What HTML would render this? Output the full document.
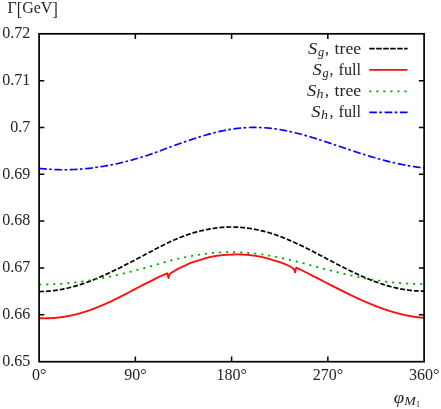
<!DOCTYPE html>
<html><head><meta charset="utf-8"><title>plot</title>
<style>
html,body{margin:0;padding:0;background:#fff;}
body{width:441px;height:409px;overflow:hidden;font-family:"Liberation Serif",serif;}
#wrap{width:441px;height:409px;will-change:transform;}
svg{display:block;font-family:"Liberation Serif",serif;font-size:16px;fill:#242424;}
</style></head><body>
<div id="wrap"><svg width="441" height="409" viewBox="0 0 441 409">
<g fill="none" stroke-linejoin="round">
<path d="M39.10,291.53 L40.10,291.53 L41.10,291.51 L42.10,291.49 L43.10,291.46 L44.10,291.42 L45.10,291.37 L46.10,291.32 L47.10,291.25 L48.10,291.18 L49.10,291.10 L50.10,291.01 L51.10,290.91 L52.10,290.81 L53.10,290.69 L54.10,290.57 L55.10,290.44 L56.10,290.30 L57.10,290.16 L58.10,290.00 L59.10,289.84 L60.10,289.67 L61.10,289.49 L62.10,289.30 L63.10,289.11 L64.10,288.91 L65.10,288.70 L66.10,288.48 L67.10,288.25 L68.10,288.02 L69.10,287.78 L70.10,287.53 L71.10,287.28 L72.10,287.02 L73.10,286.75 L74.10,286.47 L75.10,286.19 L76.10,285.90 L77.10,285.60 L78.10,285.29 L79.10,284.98 L80.10,284.66 L81.10,284.34 L82.10,284.01 L83.10,283.67 L84.10,283.32 L85.10,282.97 L86.10,282.62 L87.10,282.25 L88.10,281.88 L89.10,281.51 L90.10,281.13 L91.10,280.74 L92.10,280.35 L93.10,279.95 L94.10,279.55 L95.10,279.14 L96.10,278.72 L97.10,278.30 L98.10,277.88 L99.10,277.45 L100.10,277.02 L101.10,276.59 L102.10,276.15 L103.10,275.71 L104.10,275.26 L105.10,274.81 L106.10,274.36 L107.10,273.90 L108.10,273.44 L109.10,272.97 L110.10,272.50 L111.10,272.03 L112.10,271.56 L113.10,271.08 L114.10,270.59 L115.10,270.11 L116.10,269.62 L117.10,269.13 L118.10,268.64 L119.10,268.14 L120.10,267.64 L121.10,267.13 L122.10,266.62 L123.10,266.11 L124.10,265.60 L125.10,265.08 L126.10,264.56 L127.10,264.04 L128.10,263.52 L129.10,263.00 L130.10,262.48 L131.10,261.96 L132.10,261.43 L133.10,260.91 L134.10,260.38 L135.10,259.86 L136.10,259.33 L137.10,258.81 L138.10,258.28 L139.10,257.76 L140.10,257.23 L141.10,256.71 L142.10,256.18 L143.10,255.66 L144.10,255.14 L145.10,254.62 L146.10,254.10 L147.10,253.58 L148.10,253.06 L149.10,252.55 L150.10,252.03 L151.10,251.49 L152.10,250.96 L153.10,250.42 L154.10,249.89 L155.10,249.36 L156.10,248.83 L157.10,248.31 L158.10,247.79 L159.10,247.27 L160.10,246.75 L161.10,246.24 L162.10,245.73 L163.10,245.22 L164.10,244.72 L165.10,244.23 L166.10,243.73 L167.10,243.24 L168.10,242.76 L169.10,242.27 L170.10,241.80 L171.10,241.32 L172.10,240.86 L173.10,240.42 L174.10,239.99 L175.10,239.57 L176.10,239.15 L177.10,238.73 L178.10,238.32 L179.10,237.92 L180.10,237.52 L181.10,237.12 L182.10,236.74 L183.10,236.35 L184.10,235.98 L185.10,235.61 L186.10,235.25 L187.10,234.89 L188.10,234.54 L189.10,234.19 L190.10,233.86 L191.10,233.54 L192.10,233.24 L193.10,232.93 L194.10,232.64 L195.10,232.35 L196.10,232.07 L197.10,231.80 L198.10,231.54 L199.10,231.28 L200.10,231.03 L201.10,230.79 L202.10,230.55 L203.10,230.32 L204.10,230.10 L205.10,229.89 L206.10,229.69 L207.10,229.49 L208.10,229.30 L209.10,229.12 L210.10,228.95 L211.10,228.79 L212.10,228.63 L213.10,228.47 L214.10,228.32 L215.10,228.17 L216.10,228.03 L217.10,227.90 L218.10,227.78 L219.10,227.67 L220.10,227.57 L221.10,227.47 L222.10,227.38 L223.10,227.31 L224.10,227.24 L225.10,227.18 L226.10,227.13 L227.10,227.08 L228.10,227.05 L229.10,227.02 L230.10,227.01 L231.10,227.00 L232.10,227.00 L233.10,227.01 L234.10,227.03 L235.10,227.05 L236.10,227.09 L237.10,227.13 L238.10,227.19 L239.10,227.25 L240.10,227.32 L241.10,227.40 L242.10,227.49 L243.10,227.58 L244.10,227.69 L245.10,227.80 L246.10,227.93 L247.10,228.06 L248.10,228.20 L249.10,228.34 L250.10,228.50 L251.10,228.66 L252.10,228.84 L253.10,229.00 L254.10,229.18 L255.10,229.36 L256.10,229.55 L257.10,229.75 L258.10,229.95 L259.10,230.17 L260.10,230.39 L261.10,230.62 L262.10,230.86 L263.10,231.10 L264.10,231.35 L265.10,231.61 L266.10,231.88 L267.10,232.16 L268.10,232.44 L269.10,232.73 L270.10,233.03 L271.10,233.33 L272.10,233.64 L273.10,233.96 L274.10,234.28 L275.10,234.61 L276.10,234.97 L277.10,235.33 L278.10,235.69 L279.10,236.06 L280.10,236.44 L281.10,236.82 L282.10,237.21 L283.10,237.61 L284.10,238.01 L285.10,238.42 L286.10,238.83 L287.10,239.25 L288.10,239.67 L289.10,240.10 L290.10,240.53 L291.10,240.97 L292.10,241.41 L293.10,241.86 L294.10,242.31 L295.10,242.77 L296.10,243.23 L297.10,243.69 L298.10,244.16 L299.10,244.64 L300.10,245.11 L301.10,245.59 L302.10,246.08 L303.10,246.56 L304.10,247.05 L305.10,247.55 L306.10,248.04 L307.10,248.54 L308.10,249.05 L309.10,249.55 L310.10,250.06 L311.10,250.57 L312.10,251.08 L313.10,251.59 L314.10,252.11 L315.10,252.62 L316.10,253.14 L317.10,253.66 L318.10,254.18 L319.10,254.71 L320.10,255.23 L321.10,255.76 L322.10,256.28 L323.10,256.81 L324.10,257.33 L325.10,257.86 L326.10,258.39 L327.10,258.91 L328.10,259.44 L329.10,259.97 L330.10,260.49 L331.10,261.02 L332.10,261.55 L333.10,262.07 L334.10,262.59 L335.10,263.12 L336.10,263.64 L337.10,264.16 L338.10,264.68 L339.10,265.19 L340.10,265.71 L341.10,266.22 L342.10,266.73 L343.10,267.24 L344.10,267.75 L345.10,268.25 L346.10,268.75 L347.10,269.25 L348.10,269.75 L349.10,270.24 L350.10,270.73 L351.10,271.22 L352.10,271.70 L353.10,272.18 L354.10,272.66 L355.10,273.13 L356.10,273.60 L357.10,274.06 L358.10,274.52 L359.10,274.98 L360.10,275.43 L361.10,275.88 L362.10,276.32 L363.10,276.76 L364.10,277.19 L365.10,277.62 L366.10,278.05 L367.10,278.47 L368.10,278.88 L369.10,279.29 L370.10,279.69 L371.10,280.09 L372.10,280.48 L373.10,280.86 L374.10,281.24 L375.10,281.62 L376.10,281.99 L377.10,282.35 L378.10,282.70 L379.10,283.05 L380.10,283.40 L381.10,283.73 L382.10,284.06 L383.10,284.39 L384.10,284.70 L385.10,285.01 L386.10,285.31 L387.10,285.61 L388.10,285.90 L389.10,286.18 L390.10,286.45 L391.10,286.72 L392.10,286.98 L393.10,287.23 L394.10,287.48 L395.10,287.72 L396.10,287.95 L397.10,288.17 L398.10,288.38 L399.10,288.59 L400.10,288.79 L401.10,288.98 L402.10,289.16 L403.10,289.34 L404.10,289.51 L405.10,289.67 L406.10,289.82 L407.10,289.96 L408.10,290.10 L409.10,290.22 L410.10,290.34 L411.10,290.45 L412.10,290.56 L413.10,290.65 L414.10,290.74 L415.10,290.81 L416.10,290.88 L417.10,290.94 L418.10,291.00 L419.10,291.04 L420.10,291.08 L421.10,291.10 L422.10,291.12 L423.10,291.13 L424.10,291.13" stroke="#000" stroke-width="1.7" stroke-dasharray="4.9 2"/>
<path d="M39.10,318.20 L39.60,318.22 L40.10,318.23 L40.60,318.25 L41.10,318.26 L41.60,318.27 L42.10,318.28 L42.60,318.29 L43.10,318.29 L43.60,318.30 L44.10,318.30 L44.60,318.30 L45.10,318.30 L45.60,318.30 L46.10,318.29 L46.60,318.28 L47.10,318.27 L47.60,318.26 L48.10,318.25 L48.60,318.23 L49.10,318.22 L49.60,318.20 L50.10,318.18 L50.60,318.16 L51.10,318.13 L51.60,318.10 L52.10,318.08 L52.60,318.05 L53.10,318.01 L53.60,317.98 L54.10,317.94 L54.60,317.90 L55.10,317.86 L55.60,317.82 L56.10,317.78 L56.60,317.73 L57.10,317.68 L57.60,317.63 L58.10,317.58 L58.60,317.52 L59.10,317.47 L59.60,317.41 L60.10,317.35 L60.60,317.29 L61.10,317.22 L61.60,317.15 L62.10,317.09 L62.60,317.02 L63.10,316.94 L63.60,316.87 L64.10,316.79 L64.60,316.71 L65.10,316.63 L65.60,316.55 L66.10,316.46 L66.60,316.38 L67.10,316.29 L67.60,316.20 L68.10,316.10 L68.60,316.01 L69.10,315.91 L69.60,315.81 L70.10,315.71 L70.60,315.61 L71.10,315.51 L71.60,315.40 L72.10,315.29 L72.60,315.18 L73.10,315.07 L73.60,314.95 L74.10,314.83 L74.60,314.72 L75.10,314.59 L75.60,314.47 L76.10,314.35 L76.60,314.22 L77.10,314.09 L77.60,313.96 L78.10,313.83 L78.60,313.69 L79.10,313.56 L79.60,313.42 L80.10,313.28 L80.60,313.14 L81.10,312.99 L81.60,312.85 L82.10,312.70 L82.60,312.55 L83.10,312.40 L83.60,312.24 L84.10,312.09 L84.60,311.93 L85.10,311.77 L85.60,311.61 L86.10,311.45 L86.60,311.28 L87.10,311.12 L87.60,310.95 L88.10,310.78 L88.60,310.61 L89.10,310.43 L89.60,310.26 L90.10,310.08 L90.60,309.90 L91.10,309.72 L91.60,309.54 L92.10,309.36 L92.60,309.17 L93.10,308.98 L93.60,308.80 L94.10,308.61 L94.60,308.41 L95.10,308.22 L95.60,308.02 L96.10,307.83 L96.60,307.63 L97.10,307.43 L97.60,307.23 L98.10,307.02 L98.60,306.82 L99.10,306.61 L99.60,306.41 L100.10,306.20 L100.60,305.99 L101.10,305.78 L101.60,305.57 L102.10,305.36 L102.60,305.15 L103.10,304.93 L103.60,304.72 L104.10,304.50 L104.60,304.28 L105.10,304.06 L105.60,303.84 L106.10,303.62 L106.60,303.39 L107.10,303.17 L107.60,302.94 L108.10,302.71 L108.60,302.48 L109.10,302.26 L109.60,302.02 L110.10,301.79 L110.60,301.56 L111.10,301.32 L111.60,301.09 L112.10,300.85 L112.60,300.62 L113.10,300.38 L113.60,300.14 L114.10,299.90 L114.60,299.65 L115.10,299.41 L115.60,299.17 L116.10,298.92 L116.60,298.68 L117.10,298.43 L117.60,298.19 L118.10,297.94 L118.60,297.69 L119.10,297.44 L119.60,297.19 L120.10,296.94 L120.60,296.69 L121.10,296.43 L121.60,296.17 L122.10,295.92 L122.60,295.66 L123.10,295.40 L123.60,295.14 L124.10,294.88 L124.60,294.62 L125.10,294.36 L125.60,294.10 L126.10,293.84 L126.60,293.58 L127.10,293.32 L127.60,293.06 L128.10,292.79 L128.60,292.53 L129.10,292.27 L129.60,292.00 L130.10,291.74 L130.60,291.48 L131.10,291.21 L131.60,290.95 L132.10,290.69 L132.60,290.42 L133.10,290.16 L133.60,289.89 L134.10,289.63 L134.60,289.36 L135.10,289.10 L135.60,288.84 L136.10,288.57 L136.60,288.31 L137.10,288.05 L137.60,287.78 L138.10,287.52 L138.60,287.26 L139.10,287.00 L139.60,286.73 L140.10,286.47 L140.60,286.21 L141.10,285.95 L141.60,285.69 L142.10,285.43 L142.60,285.17 L143.10,284.91 L143.60,284.65 L144.10,284.40 L144.60,284.14 L145.10,283.88 L145.60,283.63 L146.10,283.38 L146.60,283.12 L147.10,282.87 L147.60,282.62 L148.10,282.37 L148.60,282.12 L149.10,281.87 L149.60,281.62 L150.10,281.37 L150.60,281.11 L151.10,280.85 L151.60,280.60 L152.10,280.34 L152.60,280.08 L153.10,279.83 L153.60,279.58 L154.10,279.33 L154.60,279.08 L155.10,278.83 L155.60,278.59 L156.10,278.34 L156.60,278.10 L157.10,277.86 L157.60,277.61 L158.10,277.38 L158.60,277.14 L159.10,276.90 L159.60,276.67 L160.10,276.44 L160.60,276.21 L161.10,275.98 L161.60,275.76 L162.10,275.53 L162.60,275.31 L163.10,275.09 L163.60,274.87 L164.10,274.66 L164.60,274.45 L165.10,274.24 L165.60,274.03 L166.10,273.82 L166.60,273.62 L167.10,273.41 L167.30,273.33 L168.50,278.00 L168.75,276.88 L169.00,276.02 L169.25,275.36 L169.50,274.80 L169.75,274.32 L170.00,273.95 L170.25,273.69 L170.50,273.48 L170.75,273.30 L171.00,273.13 L171.25,272.96 L171.50,272.80 L171.75,272.65 L172.00,272.50 L172.25,272.35 L172.50,272.19 L172.75,272.03 L173.00,271.87 L173.25,271.71 L173.50,271.54 L173.75,271.38 L174.00,271.22 L174.25,271.06 L174.50,270.91 L174.75,270.75 L175.00,270.60 L175.25,270.45 L175.50,270.30 L175.75,270.16 L176.00,270.01 L176.25,269.87 L176.50,269.73 L176.75,269.58 L177.00,269.44 L177.25,269.31 L177.50,269.17 L177.75,269.03 L178.00,268.90 L178.25,268.77 L178.50,268.64 L178.75,268.50 L179.00,268.37 L179.25,268.25 L179.50,268.12 L179.75,267.99 L180.00,267.86 L180.25,267.74 L180.50,267.62 L180.75,267.49 L181.00,267.37 L181.25,267.25 L181.50,267.13 L181.75,267.02 L182.00,266.90 L182.25,266.79 L182.50,266.67 L182.75,266.57 L183.00,266.46 L183.25,266.35 L183.50,266.25 L183.75,266.14 L184.00,266.04 L184.25,265.93 L184.50,265.82 L184.75,265.71 L185.00,265.60 L185.25,265.48 L185.50,265.37 L185.75,265.25 L186.00,265.12 L186.25,265.00 L186.50,264.87 L186.75,264.75 L187.00,264.62 L187.25,264.49 L187.50,264.37 L187.75,264.24 L188.00,264.11 L188.25,263.99 L188.50,263.87 L188.75,263.75 L189.00,263.63 L189.25,263.52 L189.50,263.41 L189.75,263.30 L190.00,263.20 L190.25,263.10 L190.50,263.01 L190.75,262.91 L191.00,262.82 L191.25,262.73 L191.50,262.64 L191.75,262.55 L192.00,262.47 L192.25,262.38 L192.50,262.30 L192.75,262.22 L193.00,262.14 L193.25,262.06 L193.50,261.98 L193.75,261.90 L194.00,261.82 L194.25,261.74 L194.50,261.66 L194.75,261.58 L195.00,261.50 L195.25,261.42 L195.50,261.34 L195.75,261.27 L196.00,261.19 L196.25,261.11 L196.50,261.04 L196.75,260.96 L197.00,260.89 L197.25,260.82 L197.50,260.74 L197.75,260.67 L198.00,260.60 L198.25,260.52 L198.50,260.45 L198.75,260.38 L199.00,260.30 L199.25,260.23 L199.50,260.15 L199.75,260.08 L200.00,260.00 L200.25,259.92 L200.50,259.84 L200.75,259.76 L201.00,259.68 L201.25,259.60 L201.50,259.52 L201.75,259.43 L202.00,259.35 L202.25,259.27 L202.50,259.19 L202.75,259.10 L203.00,259.02 L203.25,258.94 L203.50,258.86 L203.75,258.78 L204.00,258.70 L204.25,258.62 L204.50,258.55 L204.75,258.47 L205.00,258.40 L205.25,258.33 L205.50,258.26 L205.75,258.19 L206.00,258.11 L206.25,258.04 L206.50,257.97 L206.75,257.90 L207.00,257.83 L207.25,257.76 L207.50,257.69 L207.75,257.63 L208.00,257.56 L208.25,257.49 L208.50,257.42 L208.75,257.36 L209.00,257.30 L209.25,257.23 L209.50,257.17 L209.75,257.11 L210.00,257.05 L210.25,256.99 L210.50,256.93 L210.75,256.88 L211.00,256.82 L211.25,256.77 L211.50,256.72 L211.75,256.67 L212.00,256.62 L212.25,256.57 L212.50,256.52 L212.75,256.48 L213.00,256.43 L213.25,256.39 L213.50,256.34 L213.75,256.30 L214.00,256.25 L214.25,256.21 L214.50,256.17 L214.75,256.12 L215.00,256.08 L215.25,256.04 L215.50,256.00 L215.75,255.96 L216.00,255.93 L216.25,255.89 L216.50,255.85 L216.75,255.82 L217.00,255.78 L217.25,255.75 L217.50,255.71 L217.75,255.68 L218.00,255.65 L218.25,255.62 L218.50,255.59 L218.75,255.56 L219.00,255.53 L219.25,255.50 L219.50,255.47 L219.75,255.44 L220.00,255.41 L220.25,255.39 L220.50,255.36 L220.75,255.33 L221.00,255.30 L221.25,255.28 L221.50,255.25 L221.75,255.22 L222.00,255.20 L222.25,255.17 L222.50,255.15 L222.75,255.13 L223.00,255.10 L223.25,255.08 L223.50,255.06 L223.75,255.03 L224.00,255.01 L224.25,254.99 L224.50,254.97 L224.75,254.95 L225.00,254.93 L225.25,254.91 L225.50,254.89 L225.75,254.88 L226.00,254.86 L226.25,254.84 L226.50,254.83 L226.75,254.81 L227.00,254.80 L227.25,254.79 L227.50,254.77 L227.75,254.76 L228.00,254.75 L228.25,254.73 L228.50,254.72 L228.75,254.70 L229.00,254.69 L229.25,254.68 L229.50,254.66 L229.75,254.65 L230.00,254.64 L230.25,254.63 L230.50,254.61 L230.75,254.60 L231.00,254.59 L231.25,254.58 L231.50,254.56 L231.75,254.55 L232.00,254.54 L232.25,254.53 L232.50,254.52 L232.75,254.51 L233.00,254.50 L233.25,254.49 L233.50,254.48 L233.75,254.47 L234.00,254.46 L234.25,254.46 L234.50,254.45 L234.75,254.44 L235.00,254.43 L235.25,254.43 L235.50,254.42 L235.75,254.42 L236.00,254.41 L236.25,254.41 L236.50,254.41 L236.75,254.40 L237.00,254.40 L237.25,254.40 L237.50,254.40 L237.75,254.40 L238.00,254.40 L238.25,254.40 L238.50,254.41 L238.75,254.41 L239.00,254.41 L239.25,254.42 L239.50,254.43 L239.75,254.43 L240.00,254.44 L240.25,254.45 L240.50,254.46 L240.75,254.47 L241.00,254.48 L241.25,254.49 L241.50,254.50 L241.75,254.52 L242.00,254.53 L242.25,254.54 L242.50,254.55 L242.75,254.57 L243.00,254.58 L243.25,254.60 L243.50,254.61 L243.75,254.63 L244.00,254.64 L244.25,254.66 L244.50,254.68 L244.75,254.69 L245.00,254.71 L245.25,254.72 L245.50,254.74 L245.75,254.76 L246.00,254.77 L246.25,254.79 L246.50,254.81 L246.75,254.82 L247.00,254.84 L247.25,254.86 L247.50,254.88 L247.75,254.90 L248.00,254.93 L248.25,254.95 L248.50,254.97 L248.75,255.00 L249.00,255.02 L249.25,255.05 L249.50,255.08 L249.75,255.11 L250.00,255.14 L250.25,255.16 L250.50,255.19 L250.75,255.23 L251.00,255.26 L251.25,255.29 L251.50,255.32 L251.75,255.35 L252.00,255.39 L252.25,255.42 L252.50,255.45 L252.75,255.49 L253.00,255.52 L253.25,255.56 L253.50,255.59 L253.75,255.62 L254.00,255.66 L254.25,255.69 L254.50,255.73 L254.75,255.76 L255.00,255.80 L255.25,255.84 L255.50,255.87 L255.75,255.91 L256.00,255.95 L256.25,255.99 L256.50,256.03 L256.75,256.07 L257.00,256.11 L257.25,256.15 L257.50,256.19 L257.75,256.23 L258.00,256.28 L258.25,256.32 L258.50,256.36 L258.75,256.41 L259.00,256.46 L259.25,256.50 L259.50,256.55 L259.75,256.60 L260.00,256.64 L260.25,256.69 L260.50,256.74 L260.75,256.79 L261.00,256.84 L261.25,256.89 L261.50,256.94 L261.75,256.99 L262.00,257.05 L262.25,257.10 L262.50,257.15 L262.75,257.21 L263.00,257.26 L263.25,257.32 L263.50,257.37 L263.75,257.43 L264.00,257.49 L264.25,257.55 L264.50,257.61 L264.75,257.67 L265.00,257.73 L265.25,257.79 L265.50,257.85 L265.75,257.91 L266.00,257.98 L266.25,258.04 L266.50,258.11 L266.75,258.17 L267.00,258.24 L267.25,258.31 L267.50,258.37 L267.75,258.44 L268.00,258.51 L268.25,258.58 L268.50,258.66 L268.75,258.73 L269.00,258.81 L269.25,258.89 L269.50,258.97 L269.75,259.05 L270.00,259.14 L270.25,259.22 L270.50,259.30 L270.75,259.39 L271.00,259.47 L271.25,259.56 L271.50,259.65 L271.75,259.73 L272.00,259.82 L272.25,259.90 L272.50,259.99 L272.75,260.07 L273.00,260.15 L273.25,260.24 L273.50,260.32 L273.75,260.40 L274.00,260.48 L274.25,260.55 L274.50,260.63 L274.75,260.70 L275.00,260.78 L275.25,260.85 L275.50,260.92 L275.75,260.99 L276.00,261.06 L276.25,261.13 L276.50,261.19 L276.75,261.26 L277.00,261.33 L277.25,261.40 L277.50,261.46 L277.75,261.53 L278.00,261.60 L278.25,261.67 L278.50,261.74 L278.75,261.82 L279.00,261.89 L279.25,261.96 L279.50,262.04 L279.75,262.12 L280.00,262.20 L280.25,262.28 L280.50,262.37 L280.75,262.45 L281.00,262.54 L281.25,262.63 L281.50,262.72 L281.75,262.82 L282.00,262.91 L282.25,263.01 L282.50,263.10 L282.75,263.20 L283.00,263.30 L283.25,263.40 L283.50,263.50 L283.75,263.60 L284.00,263.70 L284.25,263.80 L284.50,263.90 L284.75,264.01 L285.00,264.11 L285.25,264.22 L285.50,264.33 L285.75,264.44 L286.00,264.54 L286.25,264.66 L286.50,264.77 L286.75,264.88 L287.00,264.99 L287.25,265.10 L287.50,265.21 L287.75,265.32 L288.00,265.43 L288.25,265.55 L288.50,265.66 L288.75,265.78 L289.00,265.89 L289.25,266.01 L289.50,266.14 L289.75,266.26 L290.00,266.39 L290.25,266.53 L290.50,266.66 L290.75,266.81 L291.00,266.95 L291.25,267.11 L291.50,267.26 L291.75,267.43 L292.00,267.60 L292.25,267.78 L292.50,267.97 L292.75,268.18 L293.00,268.40 L293.25,268.65 L293.50,268.92 L293.75,269.23 L294.00,269.58 L294.25,269.98 L294.50,270.50 L294.75,271.31 L295.00,272.40 L296.30,267.60 L296.80,267.84 L297.30,268.08 L297.80,268.32 L298.30,268.56 L298.80,268.81 L299.30,269.05 L299.80,269.30 L300.30,269.54 L300.80,269.79 L301.30,270.04 L301.80,270.28 L302.30,270.53 L302.80,270.78 L303.30,271.03 L303.80,271.28 L304.30,271.52 L304.80,271.77 L305.30,272.02 L305.80,272.28 L306.30,272.53 L306.80,272.78 L307.30,273.03 L307.80,273.28 L308.30,273.54 L308.80,273.79 L309.30,274.04 L309.80,274.29 L310.30,274.55 L310.80,274.80 L311.30,275.06 L311.80,275.31 L312.30,275.57 L312.80,275.82 L313.30,276.08 L313.80,276.33 L314.30,276.59 L314.80,276.85 L315.30,277.10 L315.80,277.36 L316.30,277.62 L316.80,277.87 L317.30,278.13 L317.80,278.39 L318.30,278.65 L318.80,278.90 L319.30,279.16 L319.80,279.42 L320.30,279.68 L320.80,279.93 L321.30,280.19 L321.80,280.45 L322.30,280.71 L322.80,280.96 L323.30,281.22 L323.80,281.48 L324.30,281.74 L324.80,282.00 L325.30,282.25 L325.80,282.51 L326.30,282.77 L326.80,283.03 L327.30,283.28 L327.80,283.54 L328.30,283.80 L328.80,284.06 L329.30,284.31 L329.80,284.57 L330.30,284.83 L330.80,285.08 L331.30,285.34 L331.80,285.60 L332.30,285.85 L332.80,286.11 L333.30,286.36 L333.80,286.62 L334.30,286.87 L334.80,287.13 L335.30,287.38 L335.80,287.64 L336.30,287.89 L336.80,288.15 L337.30,288.40 L337.80,288.65 L338.30,288.90 L338.80,289.16 L339.30,289.41 L339.80,289.66 L340.30,289.91 L340.80,290.16 L341.30,290.41 L341.80,290.66 L342.30,290.91 L342.80,291.16 L343.30,291.41 L343.80,291.66 L344.30,291.91 L344.80,292.15 L345.30,292.40 L345.80,292.65 L346.30,292.89 L346.80,293.14 L347.30,293.38 L347.80,293.63 L348.30,293.87 L348.80,294.11 L349.30,294.35 L349.80,294.60 L350.30,294.84 L350.80,295.08 L351.30,295.32 L351.80,295.56 L352.30,295.79 L352.80,296.03 L353.30,296.27 L353.80,296.51 L354.30,296.74 L354.80,296.98 L355.30,297.21 L355.80,297.44 L356.30,297.68 L356.80,297.91 L357.30,298.14 L357.80,298.37 L358.30,298.60 L358.80,298.83 L359.30,299.06 L359.80,299.29 L360.30,299.51 L360.80,299.74 L361.30,299.96 L361.80,300.19 L362.30,300.41 L362.80,300.63 L363.30,300.85 L363.80,301.07 L364.30,301.29 L364.80,301.51 L365.30,301.73 L365.80,301.95 L366.30,302.16 L366.80,302.38 L367.30,302.59 L367.80,302.80 L368.30,303.01 L368.80,303.22 L369.30,303.43 L369.80,303.64 L370.30,303.85 L370.80,304.06 L371.30,304.26 L371.80,304.47 L372.30,304.67 L372.80,304.87 L373.30,305.07 L373.80,305.27 L374.30,305.47 L374.80,305.67 L375.30,305.87 L375.80,306.06 L376.30,306.25 L376.80,306.45 L377.30,306.64 L377.80,306.83 L378.30,307.02 L378.80,307.21 L379.30,307.39 L379.80,307.58 L380.30,307.76 L380.80,307.95 L381.30,308.13 L381.80,308.31 L382.30,308.49 L382.80,308.67 L383.30,308.84 L383.80,309.02 L384.30,309.19 L384.80,309.36 L385.30,309.53 L385.80,309.70 L386.30,309.87 L386.80,310.04 L387.30,310.20 L387.80,310.37 L388.30,310.53 L388.80,310.69 L389.30,310.85 L389.80,311.01 L390.30,311.17 L390.80,311.32 L391.30,311.48 L391.80,311.63 L392.30,311.78 L392.80,311.93 L393.30,312.08 L393.80,312.22 L394.30,312.37 L394.80,312.51 L395.30,312.65 L395.80,312.79 L396.30,312.93 L396.80,313.07 L397.30,313.20 L397.80,313.33 L398.30,313.47 L398.80,313.60 L399.30,313.73 L399.80,313.85 L400.30,313.98 L400.80,314.10 L401.30,314.22 L401.80,314.34 L402.30,314.46 L402.80,314.58 L403.30,314.69 L403.80,314.81 L404.30,314.92 L404.80,315.03 L405.30,315.13 L405.80,315.24 L406.30,315.34 L406.80,315.45 L407.30,315.55 L407.80,315.65 L408.30,315.74 L408.80,315.84 L409.30,315.93 L409.80,316.02 L410.30,316.11 L410.80,316.20 L411.30,316.28 L411.80,316.37 L412.30,316.45 L412.80,316.53 L413.30,316.61 L413.80,316.68 L414.30,316.76 L414.80,316.83 L415.30,316.90 L415.80,316.97 L416.30,317.03 L416.80,317.10 L417.30,317.16 L417.80,317.22 L418.30,317.28 L418.80,317.33 L419.30,317.39 L419.80,317.44 L420.30,317.49 L420.80,317.54 L421.30,317.58 L421.80,317.63 L422.30,317.67 L422.80,317.71 L423.30,317.74 L423.80,317.78 L424.10,317.80" stroke="#ff0d0d" stroke-width="1.85" stroke-linejoin="round"/>
<path d="M39.10,284.54 L40.10,284.54 L41.10,284.54 L42.10,284.53 L43.10,284.52 L44.10,284.51 L45.10,284.49 L46.10,284.47 L47.10,284.45 L48.10,284.42 L49.10,284.39 L50.10,284.36 L51.10,284.32 L52.10,284.28 L53.10,284.24 L54.10,284.19 L55.10,284.14 L56.10,284.09 L57.10,284.04 L58.10,283.98 L59.10,283.91 L60.10,283.85 L61.10,283.78 L62.10,283.70 L63.10,283.63 L64.10,283.55 L65.10,283.46 L66.10,283.38 L67.10,283.29 L68.10,283.19 L69.10,283.10 L70.10,283.00 L71.10,282.90 L72.10,282.79 L73.10,282.68 L74.10,282.57 L75.10,282.45 L76.10,282.33 L77.10,282.21 L78.10,282.09 L79.10,281.96 L80.10,281.82 L81.10,281.69 L82.10,281.55 L83.10,281.41 L84.10,281.26 L85.10,281.12 L86.10,280.97 L87.10,280.81 L88.10,280.65 L89.10,280.49 L90.10,280.33 L91.10,280.17 L92.10,280.00 L93.10,279.82 L94.10,279.65 L95.10,279.47 L96.10,279.29 L97.10,279.11 L98.10,278.92 L99.10,278.73 L100.10,278.54 L101.10,278.35 L102.10,278.16 L103.10,277.97 L104.10,277.77 L105.10,277.57 L106.10,277.37 L107.10,277.17 L108.10,276.96 L109.10,276.75 L110.10,276.54 L111.10,276.32 L112.10,276.11 L113.10,275.89 L114.10,275.67 L115.10,275.45 L116.10,275.22 L117.10,274.99 L118.10,274.76 L119.10,274.53 L120.10,274.30 L121.10,274.06 L122.10,273.81 L123.10,273.56 L124.10,273.32 L125.10,273.07 L126.10,272.81 L127.10,272.56 L128.10,272.31 L129.10,272.05 L130.10,271.79 L131.10,271.53 L132.10,271.27 L133.10,271.01 L134.10,270.75 L135.10,270.49 L136.10,270.22 L137.10,269.96 L138.10,269.69 L139.10,269.43 L140.10,269.16 L141.10,268.89 L142.10,268.62 L143.10,268.35 L144.10,268.08 L145.10,267.81 L146.10,267.54 L147.10,267.27 L148.10,267.00 L149.10,266.73 L150.10,266.46 L151.10,266.16 L152.10,265.87 L153.10,265.57 L154.10,265.27 L155.10,264.98 L156.10,264.68 L157.10,264.39 L158.10,264.10 L159.10,263.80 L160.10,263.51 L161.10,263.22 L162.10,262.93 L163.10,262.65 L164.10,262.36 L165.10,262.07 L166.10,261.79 L167.10,261.51 L168.10,261.23 L169.10,260.95 L170.10,260.67 L171.10,260.39 L172.10,260.13 L173.10,259.89 L174.10,259.65 L175.10,259.42 L176.10,259.19 L177.10,258.97 L178.10,258.74 L179.10,258.52 L180.10,258.30 L181.10,258.08 L182.10,257.87 L183.10,257.66 L184.10,257.45 L185.10,257.24 L186.10,257.04 L187.10,256.84 L188.10,256.65 L189.10,256.46 L190.10,256.27 L191.10,256.09 L192.10,255.91 L193.10,255.73 L194.10,255.55 L195.10,255.39 L196.10,255.22 L197.10,255.06 L198.10,254.90 L199.10,254.75 L200.10,254.60 L201.10,254.45 L202.10,254.30 L203.10,254.16 L204.10,254.02 L205.10,253.88 L206.10,253.75 L207.10,253.63 L208.10,253.51 L209.10,253.39 L210.10,253.28 L211.10,253.17 L212.10,253.07 L213.10,252.97 L214.10,252.88 L215.10,252.80 L216.10,252.71 L217.10,252.64 L218.10,252.56 L219.10,252.50 L220.10,252.44 L221.10,252.38 L222.10,252.33 L223.10,252.28 L224.10,252.24 L225.10,252.20 L226.10,252.17 L227.10,252.15 L228.10,252.13 L229.10,252.11 L230.10,252.10 L231.10,252.10 L232.10,252.10 L233.10,252.10 L234.10,252.11 L235.10,252.13 L236.10,252.15 L237.10,252.18 L238.10,252.21 L239.10,252.25 L240.10,252.29 L241.10,252.34 L242.10,252.39 L243.10,252.45 L244.10,252.51 L245.10,252.58 L246.10,252.65 L247.10,252.73 L248.10,252.81 L249.10,252.90 L250.10,252.99 L251.10,253.09 L252.10,253.19 L253.10,253.30 L254.10,253.41 L255.10,253.53 L256.10,253.65 L257.10,253.77 L258.10,253.90 L259.10,254.04 L260.10,254.18 L261.10,254.31 L262.10,254.46 L263.10,254.60 L264.10,254.75 L265.10,254.91 L266.10,255.06 L267.10,255.23 L268.10,255.39 L269.10,255.56 L270.10,255.74 L271.10,255.91 L272.10,256.09 L273.10,256.28 L274.10,256.47 L275.10,256.66 L276.10,256.85 L277.10,257.05 L278.10,257.25 L279.10,257.46 L280.10,257.67 L281.10,257.88 L282.10,258.09 L283.10,258.31 L284.10,258.53 L285.10,258.75 L286.10,258.97 L287.10,259.20 L288.10,259.43 L289.10,259.66 L290.10,259.89 L291.10,260.14 L292.10,260.38 L293.10,260.63 L294.10,260.88 L295.10,261.13 L296.10,261.38 L297.10,261.63 L298.10,261.89 L299.10,262.14 L300.10,262.40 L301.10,262.66 L302.10,262.92 L303.10,263.18 L304.10,263.45 L305.10,263.71 L306.10,263.97 L307.10,264.24 L308.10,264.51 L309.10,264.77 L310.10,265.04 L311.10,265.31 L312.10,265.57 L313.10,265.84 L314.10,266.11 L315.10,266.38 L316.10,266.65 L317.10,266.91 L318.10,267.18 L319.10,267.45 L320.10,267.72 L321.10,267.98 L322.10,268.25 L323.10,268.52 L324.10,268.78 L325.10,269.05 L326.10,269.31 L327.10,269.58 L328.10,269.84 L329.10,270.10 L330.10,270.36 L331.10,270.62 L332.10,270.88 L333.10,271.13 L334.10,271.39 L335.10,271.64 L336.10,271.90 L337.10,272.15 L338.10,272.40 L339.10,272.65 L340.10,272.89 L341.10,273.14 L342.10,273.38 L343.10,273.62 L344.10,273.86 L345.10,274.10 L346.10,274.33 L347.10,274.57 L348.10,274.80 L349.10,275.03 L350.10,275.26 L351.10,275.48 L352.10,275.70 L353.10,275.92 L354.10,276.14 L355.10,276.36 L356.10,276.57 L357.10,276.78 L358.10,276.99 L359.10,277.20 L360.10,277.40 L361.10,277.60 L362.10,277.80 L363.10,277.99 L364.10,278.19 L365.10,278.38 L366.10,278.56 L367.10,278.75 L368.10,278.93 L369.10,279.11 L370.10,279.29 L371.10,279.46 L372.10,279.63 L373.10,279.80 L374.10,279.96 L375.10,280.12 L376.10,280.28 L377.10,280.44 L378.10,280.59 L379.10,280.74 L380.10,280.88 L381.10,281.03 L382.10,281.17 L383.10,281.30 L384.10,281.44 L385.10,281.57 L386.10,281.70 L387.10,281.82 L388.10,281.94 L389.10,282.06 L390.10,282.18 L391.10,282.29 L392.10,282.40 L393.10,282.50 L394.10,282.60 L395.10,282.70 L396.10,282.80 L397.10,282.89 L398.10,282.98 L399.10,283.07 L400.10,283.15 L401.10,283.23 L402.10,283.30 L403.10,283.38 L404.10,283.45 L405.10,283.51 L406.10,283.57 L407.10,283.63 L408.10,283.69 L409.10,283.74 L410.10,283.79 L411.10,283.84 L412.10,283.88 L413.10,283.92 L414.10,283.96 L415.10,283.99 L416.10,284.02 L417.10,284.05 L418.10,284.07 L419.10,284.09 L420.10,284.11 L421.10,284.12 L422.10,284.13 L423.10,284.14 L424.10,284.14" stroke="#00ac00" stroke-width="1.75" stroke-dasharray="2.15 4.9"/>
<path d="M39.10,168.35 L40.10,168.46 L41.10,168.57 L42.10,168.66 L43.10,168.76 L44.10,168.85 L45.10,168.94 L46.10,169.02 L47.10,169.10 L48.10,169.17 L49.10,169.24 L50.10,169.30 L51.10,169.36 L52.10,169.42 L53.10,169.47 L54.10,169.52 L55.10,169.56 L56.10,169.59 L57.10,169.63 L58.10,169.66 L59.10,169.68 L60.10,169.70 L61.10,169.71 L62.10,169.72 L63.10,169.73 L64.10,169.73 L65.10,169.73 L66.10,169.72 L67.10,169.71 L68.10,169.69 L69.10,169.67 L70.10,169.64 L71.10,169.61 L72.10,169.58 L73.10,169.54 L74.10,169.50 L75.10,169.45 L76.10,169.40 L77.10,169.34 L78.10,169.28 L79.10,169.21 L80.10,169.14 L81.10,169.07 L82.10,168.99 L83.10,168.91 L84.10,168.82 L85.10,168.73 L86.10,168.63 L87.10,168.53 L88.10,168.42 L89.10,168.32 L90.10,168.20 L91.10,168.08 L92.10,167.96 L93.10,167.84 L94.10,167.71 L95.10,167.57 L96.10,167.43 L97.10,167.29 L98.10,167.14 L99.10,166.99 L100.10,166.84 L101.10,166.68 L102.10,166.53 L103.10,166.36 L104.10,166.20 L105.10,166.03 L106.10,165.86 L107.10,165.68 L108.10,165.50 L109.10,165.31 L110.10,165.12 L111.10,164.93 L112.10,164.73 L113.10,164.53 L114.10,164.33 L115.10,164.12 L116.10,163.91 L117.10,163.69 L118.10,163.47 L119.10,163.25 L120.10,163.02 L121.10,162.78 L122.10,162.54 L123.10,162.30 L124.10,162.05 L125.10,161.79 L126.10,161.54 L127.10,161.28 L128.10,161.02 L129.10,160.75 L130.10,160.48 L131.10,160.21 L132.10,159.93 L133.10,159.65 L134.10,159.37 L135.10,159.08 L136.10,158.80 L137.10,158.50 L138.10,158.21 L139.10,157.91 L140.10,157.61 L141.10,157.31 L142.10,157.00 L143.10,156.69 L144.10,156.38 L145.10,156.07 L146.10,155.75 L147.10,155.43 L148.10,155.11 L149.10,154.79 L150.10,154.46 L151.10,154.11 L152.10,153.75 L153.10,153.39 L154.10,153.03 L155.10,152.67 L156.10,152.30 L157.10,151.94 L158.10,151.57 L159.10,151.20 L160.10,150.83 L161.10,150.46 L162.10,150.08 L163.10,149.71 L164.10,149.33 L165.10,148.96 L166.10,148.58 L167.10,148.20 L168.10,147.82 L169.10,147.44 L170.10,147.06 L171.10,146.68 L172.10,146.31 L173.10,145.95 L174.10,145.60 L175.10,145.25 L176.10,144.89 L177.10,144.54 L178.10,144.19 L179.10,143.84 L180.10,143.48 L181.10,143.13 L182.10,142.78 L183.10,142.44 L184.10,142.09 L185.10,141.74 L186.10,141.40 L187.10,141.05 L188.10,140.71 L189.10,140.37 L190.10,140.03 L191.10,139.70 L192.10,139.36 L193.10,139.03 L194.10,138.70 L195.10,138.38 L196.10,138.05 L197.10,137.73 L198.10,137.41 L199.10,137.10 L200.10,136.78 L201.10,136.47 L202.10,136.17 L203.10,135.87 L204.10,135.57 L205.10,135.27 L206.10,134.98 L207.10,134.69 L208.10,134.41 L209.10,134.13 L210.10,133.86 L211.10,133.59 L212.10,133.32 L213.10,133.06 L214.10,132.80 L215.10,132.55 L216.10,132.30 L217.10,132.06 L218.10,131.83 L219.10,131.60 L220.10,131.37 L221.10,131.15 L222.10,130.93 L223.10,130.73 L224.10,130.52 L225.10,130.32 L226.10,130.13 L227.10,129.95 L228.10,129.77 L229.10,129.59 L230.10,129.43 L231.10,129.27 L232.10,129.11 L233.10,128.96 L234.10,128.82 L235.10,128.68 L236.10,128.56 L237.10,128.43 L238.10,128.32 L239.10,128.21 L240.10,128.11 L241.10,128.01 L242.10,127.92 L243.10,127.84 L244.10,127.77 L245.10,127.70 L246.10,127.64 L247.10,127.58 L248.10,127.54 L249.10,127.50 L250.10,127.46 L251.10,127.44 L252.10,127.42 L253.10,127.40 L254.10,127.40 L255.10,127.40 L256.10,127.41 L257.10,127.43 L258.10,127.45 L259.10,127.48 L260.10,127.51 L261.10,127.56 L262.10,127.61 L263.10,127.66 L264.10,127.73 L265.10,127.80 L266.10,127.87 L267.10,127.96 L268.10,128.05 L269.10,128.14 L270.10,128.25 L271.10,128.36 L272.10,128.47 L273.10,128.59 L274.10,128.72 L275.10,128.86 L276.10,129.00 L277.10,129.15 L278.10,129.30 L279.10,129.46 L280.10,129.62 L281.10,129.79 L282.10,129.97 L283.10,130.15 L284.10,130.34 L285.10,130.53 L286.10,130.73 L287.10,130.93 L288.10,131.14 L289.10,131.35 L290.10,131.57 L291.10,131.79 L292.10,132.02 L293.10,132.25 L294.10,132.49 L295.10,132.73 L296.10,132.98 L297.10,133.23 L298.10,133.48 L299.10,133.74 L300.10,134.00 L301.10,134.27 L302.10,134.54 L303.10,134.81 L304.10,135.09 L305.10,135.37 L306.10,135.66 L307.10,135.94 L308.10,136.24 L309.10,136.53 L310.10,136.83 L311.10,137.13 L312.10,137.43 L313.10,137.73 L314.10,138.04 L315.10,138.35 L316.10,138.66 L317.10,138.98 L318.10,139.29 L319.10,139.61 L320.10,139.93 L321.10,140.26 L322.10,140.58 L323.10,140.91 L324.10,141.23 L325.10,141.56 L326.10,141.89 L327.10,142.22 L328.10,142.56 L329.10,142.89 L330.10,143.22 L331.10,143.56 L332.10,143.90 L333.10,144.23 L334.10,144.57 L335.10,144.91 L336.10,145.25 L337.10,145.58 L338.10,145.92 L339.10,146.26 L340.10,146.60 L341.10,146.94 L342.10,147.28 L343.10,147.61 L344.10,147.95 L345.10,148.29 L346.10,148.63 L347.10,148.96 L348.10,149.30 L349.10,149.63 L350.10,149.97 L351.10,150.30 L352.10,150.63 L353.10,150.96 L354.10,151.29 L355.10,151.62 L356.10,151.95 L357.10,152.27 L358.10,152.60 L359.10,152.92 L360.10,153.24 L361.10,153.56 L362.10,153.88 L363.10,154.20 L364.10,154.51 L365.10,154.82 L366.10,155.14 L367.10,155.44 L368.10,155.75 L369.10,156.05 L370.10,156.36 L371.10,156.66 L372.10,156.95 L373.10,157.25 L374.10,157.54 L375.10,157.83 L376.10,158.12 L377.10,158.40 L378.10,158.69 L379.10,158.97 L380.10,159.24 L381.10,159.52 L382.10,159.79 L383.10,160.05 L384.10,160.32 L385.10,160.58 L386.10,160.84 L387.10,161.09 L388.10,161.35 L389.10,161.59 L390.10,161.84 L391.10,162.08 L392.10,162.32 L393.10,162.56 L394.10,162.79 L395.10,163.02 L396.10,163.24 L397.10,163.46 L398.10,163.68 L399.10,163.89 L400.10,164.10 L401.10,164.31 L402.10,164.51 L403.10,164.71 L404.10,164.91 L405.10,165.10 L406.10,165.29 L407.10,165.47 L408.10,165.65 L409.10,165.82 L410.10,165.99 L411.10,166.16 L412.10,166.32 L413.10,166.48 L414.10,166.64 L415.10,166.79 L416.10,166.94 L417.10,167.08 L418.10,167.22 L419.10,167.35 L420.10,167.48 L421.10,167.60 L422.10,167.72 L423.10,167.84 L424.10,167.95" stroke="#0000ff" stroke-width="1.65" stroke-dasharray="7.7 2.4 2.6 2.7"/>
</g>
<g fill="none" stroke="#000">
<path d="M39.1,314.77h5.2 M424.1,314.77h-5.2 M39.1,267.94h5.2 M424.1,267.94h-5.2 M39.1,221.11h5.2 M424.1,221.11h-5.2 M39.1,174.29h5.2 M424.1,174.29h-5.2 M39.1,127.46h5.2 M424.1,127.46h-5.2 M39.1,80.63h5.2 M424.1,80.63h-5.2 M135.35,361.6v-5.2 M135.35,33.8v5.2 M231.60,361.6v-5.2 M231.60,33.8v5.2 M327.85,361.6v-5.2 M327.85,33.8v5.2 " stroke-width="1.5"/>
<rect x="39.1" y="33.8" width="385.0" height="327.90000000000003" stroke-width="1.7"/>
</g>
<g>
<text x="30.3" y="365.9" text-anchor="end">0.65</text>
<text x="30.3" y="319.07" text-anchor="end">0.66</text>
<text x="30.3" y="272.24" text-anchor="end">0.67</text>
<text x="30.3" y="225.41" text-anchor="end">0.68</text>
<text x="30.3" y="178.59" text-anchor="end">0.69</text>
<text x="30.3" y="131.76" text-anchor="end">0.7</text>
<text x="30.3" y="84.93" text-anchor="end">0.71</text>
<text x="30.3" y="38.1" text-anchor="end">0.72</text>
<text x="31.9" y="380.4">0<tspan dy="-0.9">&#176;</tspan></text>
<text x="124.15" y="380.4">90<tspan dy="-0.9">&#176;</tspan></text>
<text x="216.4" y="380.4">180<tspan dy="-0.9">&#176;</tspan></text>
<text x="312.65" y="380.4">270<tspan dy="-0.9">&#176;</tspan></text>
<text x="408.9" y="380.4">360<tspan dy="-0.9">&#176;</tspan></text>
<text x="7.6" y="13.1">&#915;</text>
<text transform="translate(16.85,14.9) scale(1,1.2)">[</text>
<text x="22.2" y="13.1">GeV</text>
<text transform="translate(52.4,14.9) scale(1,1.2)">]</text>
<text x="393.8" y="403.4" font-style="italic" textLength="10.4" lengthAdjust="spacingAndGlyphs">&#966;</text>
<text x="404.3" y="405.4" font-style="italic" font-size="11.5" textLength="11.6" lengthAdjust="spacingAndGlyphs">M</text>
<text x="416.0" y="406.7" font-size="8">1</text>
</g>
<g>
<text x="308.1" y="53.5" font-style="italic" textLength="9.2" lengthAdjust="spacingAndGlyphs">S</text>
<text x="317.9" y="56.0" font-style="italic" font-size="11.5" textLength="6.2" lengthAdjust="spacingAndGlyphs">g</text>
<text x="325.0" y="53.5">,</text>
<text x="334.6" y="53.5" textLength="26.5" lengthAdjust="spacingAndGlyphs">tree</text>
<text x="312.5" y="74.5" font-style="italic" textLength="9.2" lengthAdjust="spacingAndGlyphs">S</text>
<text x="322.6" y="77.0" font-style="italic" font-size="11.5" textLength="6.2" lengthAdjust="spacingAndGlyphs">g</text>
<text x="329.6" y="74.5">,</text>
<text x="338.6" y="74.5" textLength="22.5" lengthAdjust="spacingAndGlyphs">full</text>
<text x="306.9" y="95.5" font-style="italic" textLength="9.2" lengthAdjust="spacingAndGlyphs">S</text>
<text x="316.6" y="98.0" font-style="italic" font-size="11.5" textLength="7.0" lengthAdjust="spacingAndGlyphs">h</text>
<text x="325.0" y="95.5">,</text>
<text x="334.6" y="95.5" textLength="26.5" lengthAdjust="spacingAndGlyphs">tree</text>
<text x="311.2" y="116.6" font-style="italic" textLength="9.2" lengthAdjust="spacingAndGlyphs">S</text>
<text x="321.0" y="119.1" font-style="italic" font-size="11.5" textLength="7.0" lengthAdjust="spacingAndGlyphs">h</text>
<text x="329.5" y="116.6">,</text>
<text x="338.6" y="116.6" textLength="22.5" lengthAdjust="spacingAndGlyphs">full</text>
<g fill="none">
<path d="M369.2,48.6H407.6" stroke="#000" stroke-width="1.7" stroke-dasharray="5.5 1.5"/>
<path d="M369.2,69.9H407.6" stroke="#ff0d0d" stroke-width="1.85"/>
<path d="M369.2,91.3H407.6" stroke="#00ac00" stroke-width="1.75" stroke-dasharray="2.15 4.9"/>
<path d="M369.2,112.4H407.6" stroke="#0000ff" stroke-width="1.65" stroke-dasharray="7.7 2.4 2.6 2.7"/>
</g>
</g>
</svg></div>
</body></html>
